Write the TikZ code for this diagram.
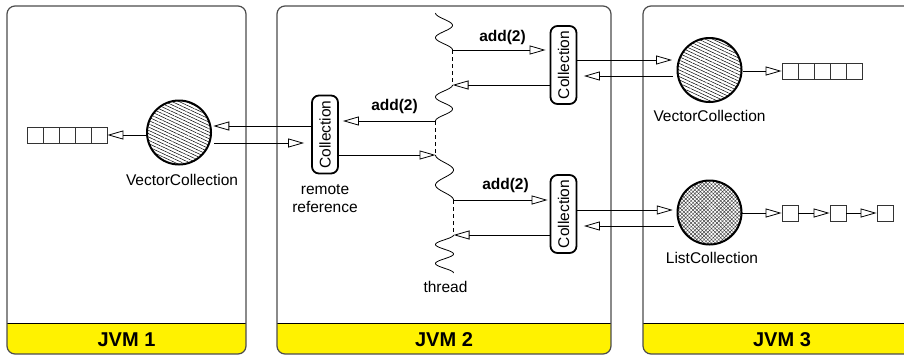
\documentclass[tikz,border=0pt]{standalone}
\usepackage{fontspec}
\setmainfont{Liberation Sans}
\usepackage{graphicx}
\usetikzlibrary{arrows.meta,patterns.meta,calc}
\begin{document}
\begin{tikzpicture}[x=1pt,y=-1pt,
  font=\fontsize{15.5}{18}\selectfont,
  panel/.style={draw=black!70, line width=1.2pt, rounded corners=8pt},
  obj/.style={circle, draw, line width=2pt, minimum size=64pt, inner sep=0pt},
  coll/.style={draw, line width=1.8pt, rounded corners=7pt, minimum width=26pt, minimum height=78pt, inner sep=0pt},
  cell/.style={draw=black!80, line width=0.8pt, minimum size=16pt, inner sep=0pt},
  oarr/.style={line width=0.8pt, -{Triangle[open, length=16pt, width=9pt, line width=0.8pt]}},
  lbl/.style={font=\fontsize{15.5}{18}\selectfont\bfseries, inner sep=0pt},
  txt/.style={inner sep=0pt, anchor=base},
  jvm/.style={font=\fontsize{20}{24}\selectfont\bfseries, anchor=base, inner sep=0pt},
  wave/.style={line width=0.8pt},
  thr/.style={line width=0.8pt, dash pattern=on 4pt off 3pt}
]
\useasboundingbox (0,0) rectangle (904,359);
\clip (0,0) rectangle (904,359);
\fill[white] (0,0) rectangle (904,359);

% panels
\foreach \l/\r in {7/246, 277/611, 643/921} {
  \begin{scope}
    \clip[rounded corners=8pt] (\l,6) rectangle (\r,354);
    \fill[yellow] (\l,323) rectangle (\r,354);
  \end{scope}
  \draw[line width=1pt] (\l,323) -- (\r,323);
  \draw[panel] (\l,6) rectangle (\r,354);
}
\node[jvm] (j1) at (126.5,346) {JVM 1};
\node[jvm] (j2) at (444,346) {JVM 2};
\node[jvm] (j3) at (782,346) {JVM 3};

% JVM 1
\node[obj, pattern={Lines[angle=-25,distance=3pt,line width=0.5pt]}] (v1) at (179,132.5) {};
\foreach \i in {1,...,5} \node[cell] (a\i) at (19+16*\i,135) {};
\draw[oarr] (v1.west |- a5.east) -- (a5.east);
\node[txt] (v1l) at (182,185) {VectorCollection};

% JVM 2
\node[coll] (rc) at (325,134.5) {\rotatebox{90}{Collection}};
\node[txt] (rr1) at (325,194) {remote};
\node[txt] (rr2) at (325,212) {reference};
\node[coll] (c1) at (563.5,65) {\rotatebox{90}{Collection}};
\node[coll] (c2) at (563.5,214) {\rotatebox{90}{Collection}};

% thread
\coordinate (t1) at (452.5,50);
\coordinate (t2) at (452.5,85);
\coordinate (t3) at (435.5,121);
\coordinate (t4) at (435.5,155);
\coordinate (t5) at (453.5,200);
\coordinate (t6) at (453.5,235);
\draw[wave] plot[domain=0:3*pi, samples=50, smooth, variable=\t] ({444 - 8.5*cos(\t r)}, {13 + 37*\t/(3*pi)});
\draw[wave] plot[domain=0:3*pi, samples=50, smooth, variable=\t] ({444 + 8.5*cos(\t r)}, {85 + 36*\t/(3*pi)});
\draw[wave] plot[domain=0:3*pi, samples=50, smooth, variable=\t] ({444.5 - 9*cos(\t r)}, {155 + 45*\t/(3*pi)});
\draw[wave] plot[domain=0:4*pi, samples=60, smooth, variable=\t] ({444.5 + 9*cos(\t r)}, {235 + 38*\t/(4*pi)});
\draw[thr] (t1) -- (t2);
\draw[thr] (t3) -- (t4);
\draw[thr] (t5) -- (t6);
\node[txt] (thl) at (445.5,292) {thread};

% JVM1 <-> remote reference
\draw[oarr, shorten >=2pt] ([yshift=8.5pt]rc.west) -- ([yshift=6.5pt]v1.east);
\draw[oarr, shorten <=3pt, shorten >=7pt] ([yshift=-10.5pt]v1.east) -- ([yshift=-8.5pt]rc.west);

% thread <-> collections
\draw[oarr, shorten >=4pt] (t1) -- ([yshift=15pt]c1.west);
\draw[oarr] ([yshift=-20pt]c1.west) -- (t2);
\draw[oarr, shorten >=4pt] (t3) -- ([yshift=13.5pt]rc.east);
\draw[oarr] ([yshift=-20.5pt]rc.east) -- (t4);
\draw[oarr, shorten >=2pt] (t5) -- ([yshift=14pt]c2.west);
\draw[oarr] ([yshift=-21pt]c2.west) -- (t6);
\node[lbl] (l1) at (502.5,37.5) {add(2)};
\node[lbl] (l2) at (394.5,106.5) {add(2)};
\node[lbl] (l3) at (505.5,185.5) {add(2)};

% JVM 3
\node[obj, pattern={Lines[angle=-25,distance=3pt,line width=0.5pt]}] (v3) at (709.5,70) {};
\node[txt] (v3l) at (709.5,121.5) {VectorCollection};
\foreach \i in {1,...,5} \node[cell] (b\i) at (774+16*\i,71) {};
\draw[oarr] (v3.east |- b1.west) -- (b1.west);

\node[obj, pattern={Hatch[angle=45,distance=2.6pt,line width=0.45pt]}, pattern color=black!75] (v4) at (709.5,212.5) {};
\node[txt] (v4l) at (712,263) {ListCollection};
\node[cell] (n1) at (790,213) {};
\node[cell] (n2) at (838,213) {};
\node[cell] (n3) at (885,213) {};
\draw[oarr] (v4.east |- n1.west) -- (n1.west);
\draw[oarr] (n1.east) -- (n2.west);
\draw[oarr] (n2.east) -- (n3.west);

% JVM2 <-> JVM3
\draw[oarr, shorten >=4.5pt] ([yshift=5pt]c1.east) -- ([yshift=10pt]v3.west);
\draw[oarr, shorten <=3.5pt, shorten >=6.5pt] ([yshift=-6pt]v3.west) -- ([yshift=-11pt]c1.east);
\draw[oarr, shorten >=4.5pt] ([yshift=4pt]c2.east) -- ([yshift=2.5pt]v4.west);
\draw[oarr, shorten <=3.5pt, shorten >=6.5pt] ([yshift=-13.5pt]v4.west) -- ([yshift=-12pt]c2.east);
\end{tikzpicture}
\end{document}
